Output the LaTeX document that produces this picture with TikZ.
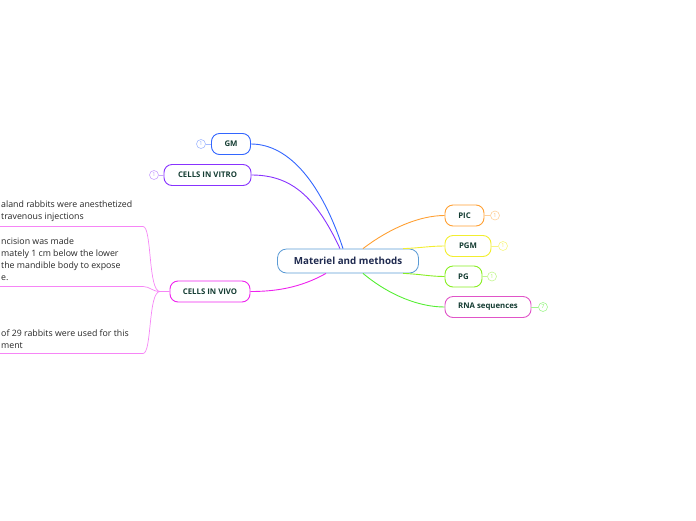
\documentclass[tikz,border=0pt]{standalone}
\usepackage{fontspec}
\setmainfont{Open Sans}
\definecolor{maincol}{HTML}{5B9BD5}
\definecolor{navy}{HTML}{1F2A4F}
\definecolor{nodetext}{HTML}{143C32}
\definecolor{gmcol}{HTML}{3366FF}
\definecolor{vitrocol}{HTML}{8833FF}
\definecolor{vivocol}{HTML}{EE22EE}
\definecolor{piccol}{HTML}{FFA033}
\definecolor{pgmcol}{HTML}{F2EE30}
\definecolor{pgcol}{HTML}{88EE22}
\definecolor{rnacol}{HTML}{E055C8}
\definecolor{rnalink}{HTML}{55EE33}
\tikzset{
  topic/.style={draw,rounded corners=8pt,line width=0.9pt,minimum height=21pt,inner xsep=2pt,
    text=nodetext,font=\bfseries\fontsize{7.8}{9}\selectfont},
  count/.style={draw,circle,line width=0.6pt,minimum size=9pt,inner sep=0pt,
    font=\fontsize{5.5}{6}\selectfont},
  link/.style={line width=0.9pt},
  note/.style={anchor=north west,align=left,inner sep=0pt,text=black!85,
    font=\fontsize{8.8}{12}\selectfont}
}
\begin{document}
\begin{tikzpicture}[x=1pt,y=-1pt]
\useasboundingbox (0,0) rectangle (696,520);
%central topic
\node[draw=maincol,rounded corners=9pt,line width=0.8pt,minimum width=141pt,minimum height=24pt,
  text=navy,font=\bfseries\fontsize{9.8}{11}\selectfont] (main) at (348,261) {Materiel and methods};
%left branches
\node[topic,draw=gmcol,minimum width=39pt] (gm) at (231,144) {GM};
\node[topic,draw=vitrocol,minimum width=87pt] (vitro) at (207.5,175) {CELLS IN VITRO};
\node[topic,draw=vivocol,minimum width=80pt] (vivo) at (210,291.5) {CELLS IN VIVO};
\node[count,draw=gmcol!45,text=gmcol!55] (gmc) at (201,144) {1};
\node[count,draw=vitrocol!45,text=vitrocol!55] (vitroc) at (154,175) {1};
\draw[gmcol!45,line width=0.6pt] (gmc) -- (gm);
\draw[vitrocol!45,line width=0.6pt] (vitroc) -- (vitro);
%right branches
\node[topic,draw=piccol,minimum width=39pt] (pic) at (464.5,215.5) {PIC};
\node[topic,draw=pgmcol,minimum width=46pt] (pgm) at (468,246) {PGM};
\node[topic,draw=pgcol,minimum width=37pt] (pg) at (463.5,276.5) {PG};
\node[topic,draw=rnacol,minimum width=86pt] (rna) at (488,307) {RNA sequences};
\node[count,draw=piccol!50,text=piccol!70] (picc) at (495,215.5) {1};
\node[count,draw=pgmcol!60,text=pgmcol!80] (pgmc) at (503,246) {1};
\node[count,draw=pgcol!50,text=pgcol!70] (pgc) at (492,276.5) {1};
\node[count,draw=rnalink!55,text=rnalink!75] (rnac) at (543,307) {7};
\draw[piccol!50,line width=0.6pt] (pic) -- (picc);
\draw[pgmcol!60,line width=0.6pt] (pgm) -- (pgmc);
\draw[pgcol!50,line width=0.6pt] (pg) -- (pgc);
\draw[rnalink!55,line width=0.6pt] (rna) -- (rnac);
%connectors
\draw[link,gmcol] ([xshift=-5pt]main.north) .. controls (322,185) and (290,144) .. (gm.east);
\draw[link,vitrocol] ([xshift=-8pt]main.north) .. controls (315,195) and (290,175) .. (vitro.east);
\draw[link,vivocol] ([xshift=-22pt]main.south) .. controls (300,288) and (275,291.5) .. (vivo.east);
\draw[link,piccol] ([xshift=15pt]main.north) .. controls (390,228) and (420,215.5) .. (pic.west);
\draw[link,pgmcol] ([xshift=55pt]main.north) .. controls (420,248) and (430,246) .. (pgm.west);
\draw[link,pgcol] ([xshift=55pt]main.south) .. controls (420,274) and (430,276.5) .. (pg.west);
\draw[link,rnalink] ([xshift=15pt]main.south) .. controls (390,296) and (420,307) .. (rna.west);
%notes of CELLS IN VIVO
\node[note] (n1) at (1,200.5) {aland rabbits were anesthetized\\travenous injections};
\node[note] (n2) at (1,237.5) {ncision was made\\mately 1 cm below the lower\\ the mandible body to expose\\e.};
\node[note] (n3) at (1,329.5) {of 29 rabbits were used for this\\ment};
\coordinate (j1) at (0,226.5);
\coordinate (j2) at (0,286.5);
\coordinate (j3) at (0,353.5);
\draw[vivocol!55,line width=0.7pt] (vivo.west) -- (160,291.5) .. controls (148,291.5) and (152,226.5) .. (143,226.5) -- (j1);
\draw[vivocol!55,line width=0.7pt] (160,291.5) .. controls (152,291.5) and (150,286.5) .. (143,286.5) -- (j2);
\draw[vivocol!55,line width=0.7pt] (160,291.5) .. controls (148,291.5) and (152,353.5) .. (143,353.5) -- (j3);
\end{tikzpicture}
\end{document}
